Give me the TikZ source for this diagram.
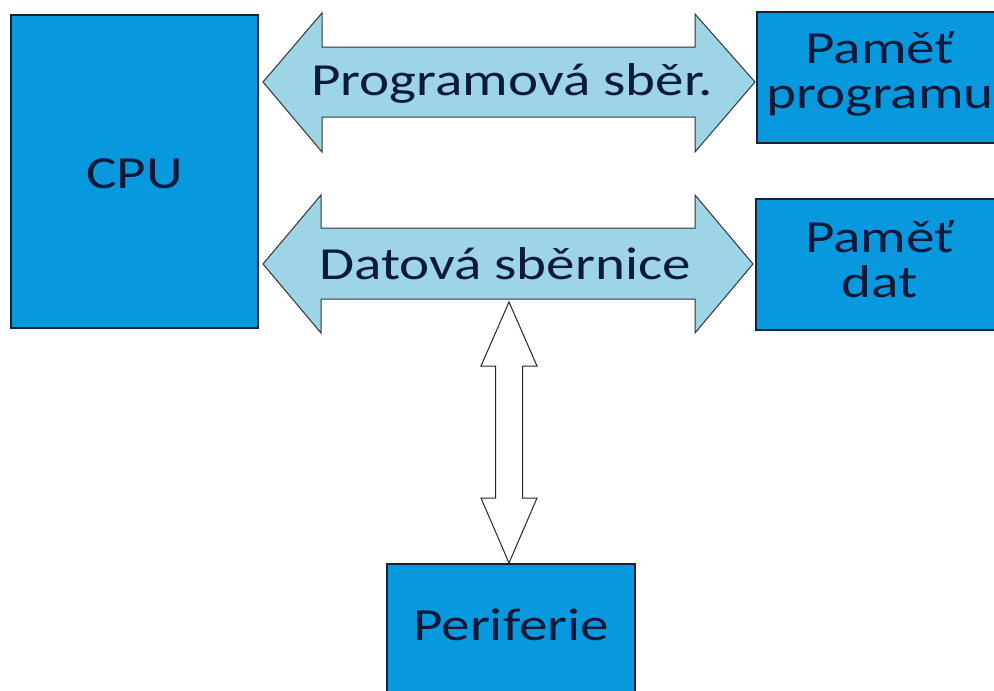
\documentclass[tikz,border=0pt]{standalone}
\usepackage{fontspec}
\setmainfont{Carlito}[FakeStretch=1.24]
\definecolor{boxblue}{RGB}{8,152,222}
\definecolor{boxline}{RGB}{20,35,60}
\definecolor{textnavy}{RGB}{12,26,58}
\definecolor{busfill}{RGB}{157,212,230}
\begin{document}
\begin{tikzpicture}[x=1pt,y=-1pt,
  box/.style={draw=boxline, fill=boxblue, line width=1.1pt, inner sep=0pt},
  lbl/.style={text=textnavy, font=\fontsize{46}{45}\selectfont, align=center, inner sep=0pt},
  bus/.style={draw=black!80, fill=busfill, line width=1pt, line join=miter},
  periarrow/.style={draw=black!85, fill=white, line width=1pt}]
\useasboundingbox (0,0) rectangle (994,691);
% boxes
\node[box, minimum width=247pt, minimum height=313pt] (cpu) at (134.5,171.5) {};
\node[lbl] (cputext) at ([yshift=-2pt]cpu.center) {CPU};
\node[box, minimum width=246pt, minimum height=131pt] (pprog) at (880,77.5) {};
\node[lbl] (pprogtext) at ([yshift=4pt]pprog.center) {Paměť\\programu};
\node[box, minimum width=247pt, minimum height=131pt] (pdat) at (879.5,264.5) {};
\node[lbl] (pdattext) at ([yshift=5pt]pdat.center) {Paměť\\dat};
\node[box, minimum width=248pt, minimum height=129pt] (peri) at (511,628.5) {};
\node[lbl] (peritext) at ([yshift=4pt]peri.center) {Periferie};
% program bus
\draw[bus] (263,82) -- (322,13) -- (322,47) -- (695,47) -- (695,14) -- (755,82)
  -- (695,152) -- (695,117) -- (322,117) -- (322,152) -- cycle;
\node[lbl] (progbus) at (512,83) {Programová sběr.};
% data bus
\draw[bus] (263,264) -- (321,195) -- (321,228) -- (695,228) -- (695,195) -- (753,264)
  -- (695,333) -- (695,299) -- (321,299) -- (321,333) -- cycle;
\node[lbl] (databus) at (505,264) {Datová sběrnice};
% peripheral arrow
\draw[periarrow] (509,302) -- (537,366) -- (522.5,366) -- (522.5,498) -- (537,498)
  -- (509,563) -- (481,498) -- (495.5,498) -- (495.5,366) -- (481,366) -- cycle;
\end{tikzpicture}
\end{document}
